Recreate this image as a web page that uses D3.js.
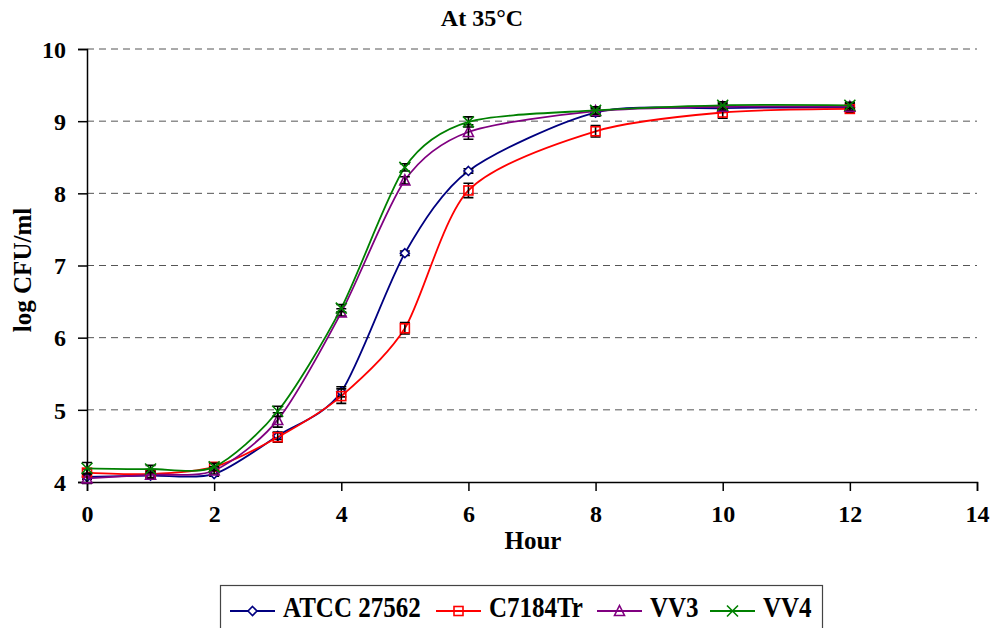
<!DOCTYPE html>
<html><head><meta charset="utf-8">
<script src="https://cdn.jsdelivr.net/npm/d3@7"></script>
<style>body{margin:0;background:#fff}svg{display:block}text{font-family:"Liberation Serif","Times New Roman",serif;font-weight:bold;fill:#000}</style>
</head><body><svg id="c" width="999" height="628"></svg>
<script>
const hours = [0,1,2,3,4,5,6,8,10,12];
const seriesNames = ["ATCC 27562","C7184Tr","VV3","VV4"];
const atcc = [4.07,4.09,4.11,4.64,5.25,7.17,8.31,9.12,9.18,9.19];
const c7184 = [4.13,4.11,4.21,4.62,5.19,6.13,8.04,8.86,9.12,9.17];
const vv3 = [4.05,4.10,4.16,4.86,6.35,8.18,8.85,9.14,9.20,9.20];
const vv4 = [4.19,4.18,4.21,4.98,6.41,8.36,8.99,9.15,9.22,9.22];
const errAtcc = [0.03,0.03,0.03,0.05,0.07,0.03,0.03,0.05,0.05,0.03];
const errC7184 = [0.05,0.05,0.05,0.07,0.10,0.08,0.10,0.08,0.08,0.05];
const errVv3 = [0.07,0.05,0.05,0.10,0.05,0.05,0.10,0.05,0.05,0.05];
const errVv4 = [0.08,0.05,0.05,0.07,0.05,0.05,0.07,0.05,0.05,0.04];
const xTicks = [0,2,4,6,8,10,12,14];
const yTicks = [4,5,6,7,8,9,10];

const svg = d3.select("#c");
const x = d3.scaleLinear().domain([0,14]).range([87,977]);
const y = d3.scaleLinear().domain([4,10]).range([482,49]);

// grid
svg.append("g").selectAll("line").data(yTicks.filter(v=>v>4)).join("line")
  .attr("x1",x(0)).attr("x2",x(14)).attr("y1",d=>y(d)).attr("y2",d=>y(d))
  .attr("stroke","#555").attr("stroke-width",1).attr("stroke-dasharray","7,5");

// axes
const xa = svg.append("g").attr("transform",`translate(0,${y(4)})`)
  .call(d3.axisBottom(x).tickValues(xTicks).tickSize(9).tickPadding(14).tickFormat(d3.format("d")));
const ya = svg.append("g").attr("transform",`translate(${x(0)},0)`)
  .call(d3.axisLeft(y).tickValues(yTicks).tickSize(9).tickPadding(12).tickFormat(d3.format("d")));
[xa,ya].forEach(a=>{
  a.select(".domain").attr("stroke","#000").attr("stroke-width",1.5);
  a.selectAll(".tick line").attr("stroke","#000").attr("stroke-width",1.5);
  a.selectAll(".tick text").attr("fill","#000").style("font-size","24px").style("font-family","'Liberation Serif',serif").style("font-weight","bold");
});
xa.selectAll(".tick text").attr("dy","0.71em");
ya.selectAll(".tick text").attr("dy","0.34em");

svg.append("text").attr("x",482).attr("y",26).attr("text-anchor","middle").style("font-size","24px").text("At 35°C");
svg.append("text").attr("x",533).attr("y",549).attr("text-anchor","middle").style("font-size","25px").text("Hour");
svg.append("text").attr("transform","translate(31,270) rotate(-90)").attr("text-anchor","middle").style("font-size","25px").text("log CFU/ml");

const series = [
  {name:seriesNames[0], vals:atcc, err:errAtcc, color:"#000080", marker:"diamond"},
  {name:seriesNames[1], vals:c7184, err:errC7184, color:"#ff0000", marker:"square"},
  {name:seriesNames[2], vals:vv3, err:errVv3, color:"#800080", marker:"triangle"},
  {name:seriesNames[3], vals:vv4, err:errVv4, color:"#008000", marker:"x"}
];

function drawMarker(g, type, cx, cy, color){
  if(type==="diamond"){
    g.append("path").attr("d",`M${cx},${cy-4.5}L${cx+4.5},${cy}L${cx},${cy+4.5}L${cx-4.5},${cy}Z`)
      .attr("fill","#fff").attr("stroke",color).attr("stroke-width",1.6);
  } else if(type==="square"){
    g.append("rect").attr("x",cx-4.5).attr("y",cy-4.5).attr("width",9).attr("height",9)
      .attr("fill","none").attr("stroke",color).attr("stroke-width",1.6);
  } else if(type==="triangle"){
    g.append("path").attr("d",`M${cx},${cy-5.5}L${cx+5},${cy+4.5}L${cx-5},${cy+4.5}Z`)
      .attr("fill","none").attr("stroke",color).attr("stroke-width",1.6);
  } else {
    g.append("path").attr("d",`M${cx-5.5},${cy-5.5}L${cx+5.5},${cy+5.5}M${cx-5.5},${cy+5.5}L${cx+5.5},${cy-5.5}`)
      .attr("fill","none").attr("stroke",color).attr("stroke-width",1.6);
  }
}

const line = d3.line().x(d=>x(d[0])).y(d=>y(d[1])).curve(d3.curveCardinal.tension(0.2));
series.forEach(s=>{
  const g = svg.append("g");
  const pts = hours.map((h,i)=>[h,s.vals[i],s.err[i]]);
  g.append("path").attr("d",line(pts)).attr("fill","none").attr("stroke",s.color).attr("stroke-width",1.8);
  pts.forEach(p=>{
    const cx=x(p[0]);
    g.append("path").attr("d",`M${cx},${y(p[1]-p[2])}V${y(p[1]+p[2])}M${cx-5},${y(p[1]-p[2])}H${cx+5}M${cx-5},${y(p[1]+p[2])}H${cx+5}`)
      .attr("stroke","#000").attr("stroke-width",1.6).attr("fill","none");
  });
  pts.forEach(p=>drawMarker(g,s.marker,x(p[0]),y(p[1]),s.color));
});

// legend
const lg = svg.append("g");
lg.append("rect").attr("x",220.5).attr("y",585.5).attr("width",602).attr("height",45)
  .attr("fill","#fff").attr("stroke","#444").attr("stroke-width",1.2);
const legX = [230,436,597,710];
series.forEach((s,i)=>{
  const lx = legX[i], ly = 611;
  lg.append("line").attr("x1",lx).attr("x2",lx+45).attr("y1",ly).attr("y2",ly).attr("stroke",s.color).attr("stroke-width",1.8);
  drawMarker(lg,s.marker,lx+22.5,ly,s.color);
  lg.append("text").attr("transform",`translate(${lx+53},617) scale(1,1.2)`).style("font-size","25px").text(s.name);
});
</script></body></html>
